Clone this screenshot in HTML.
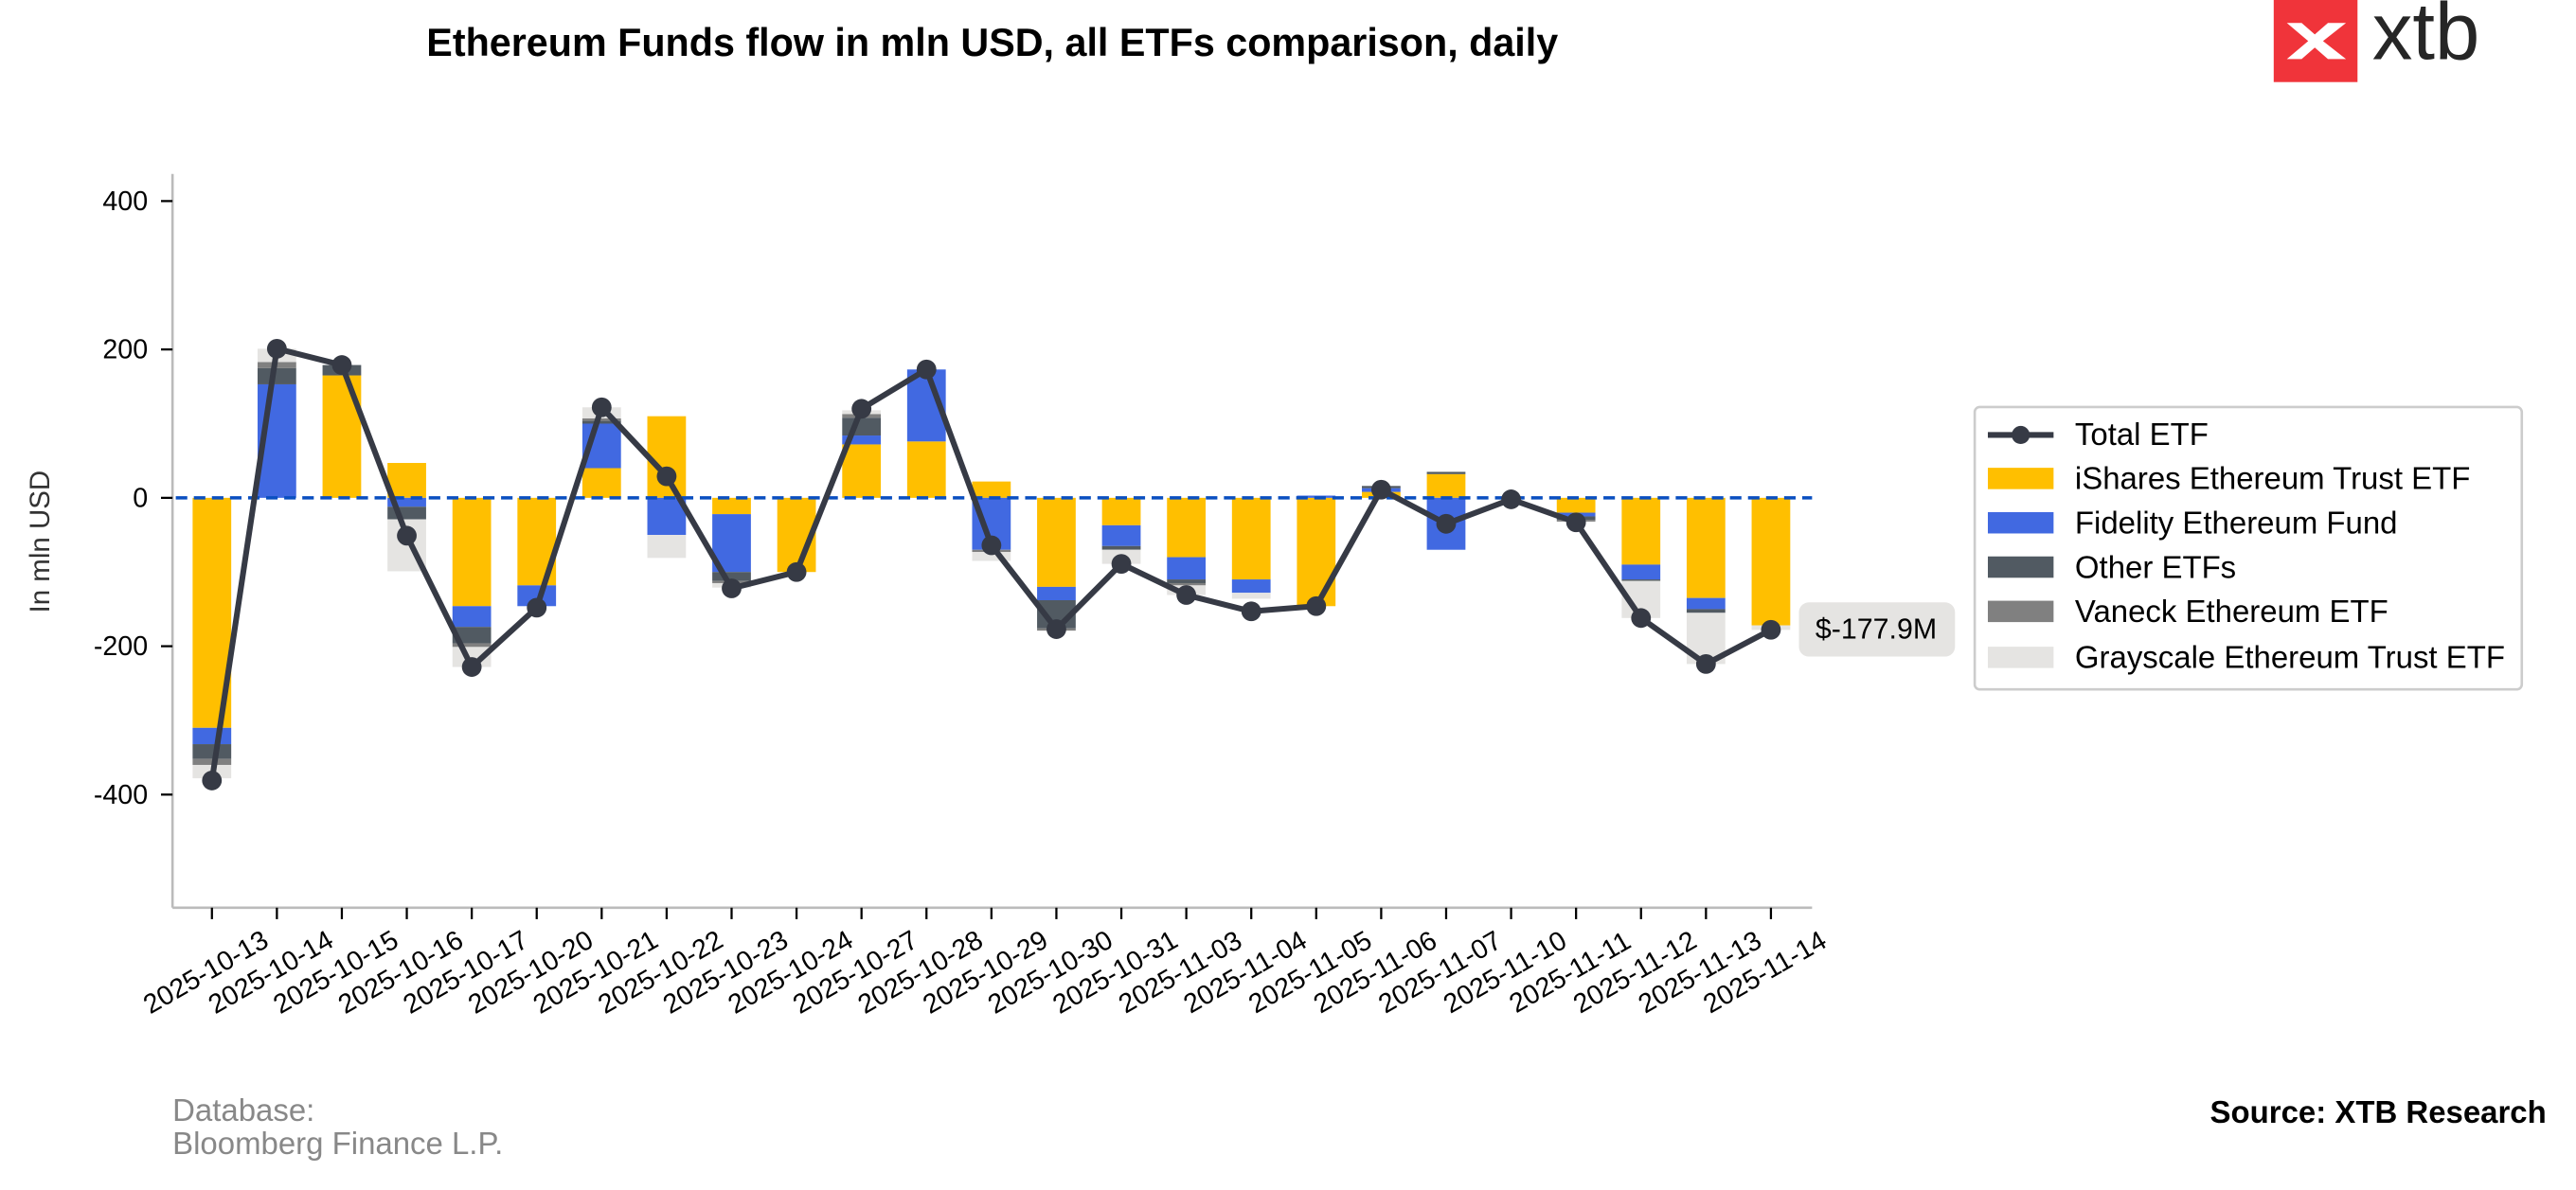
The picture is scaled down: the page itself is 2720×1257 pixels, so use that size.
<!DOCTYPE html>
<html><head><meta charset="utf-8"><style>
html,body{margin:0;padding:0;background:#fff}
svg{display:block}
text{font-family:"Liberation Sans",Arial,sans-serif}
</style></head><body>
<svg id="chart" width="2720" height="1257" viewBox="0 0 1568 725" preserveAspectRatio="none" xmlns="http://www.w3.org/2000/svg">
<text x="604" y="34" text-anchor="middle" font-size="23.8" font-weight="bold" fill="#000">Ethereum Funds flow in mln USD, all ETFs comparison, daily</text>
<g>
<rect x="1384" y="0" width="51" height="50" fill="#f0343a"/>
<path d="M1392 14 L1405 25 L1392 36 L1401 36 L1409 29 L1417 36 L1428 36 L1414 25 L1428 14 L1417 14 L1409 21 L1401 14 Z" fill="#fff"/>
<text x="1444" y="36" font-size="49" fill="#262626">xtb</text>
</g>
<g id="axes"></g>
<g id="bars"></g>
<g id="line"></g>
<g>
<rect x="1095" y="367" width="95" height="33" rx="6" fill="#e5e4e2"/>
<text x="1142" y="389" text-anchor="middle" font-size="17.5" fill="#000">$-177.9M</text>
</g>
<g font-size="19">
<rect x="1202" y="248" width="333" height="172" rx="3" fill="#fff" stroke="#ccc" stroke-width="1.5"/>
<g><line x1="1210" y1="265" x2="1250" y2="265" stroke="#363a45" stroke-width="3.5"/><circle cx="1230" cy="265" r="5.5" fill="#363a45"/><text x="1263" y="271">Total ETF</text></g>
<g><rect x="1210" y="285" width="40" height="13" fill="#ffbf00"/><text x="1263" y="298">iShares Ethereum Trust ETF</text></g>
<g><rect x="1210" y="312" width="40" height="13" fill="#4169e1"/><text x="1263" y="325">Fidelity Ethereum Fund</text></g>
<g><rect x="1210" y="339" width="40" height="13" fill="#515a62"/><text x="1263" y="352">Other ETFs</text></g>
<g><rect x="1210" y="366" width="40" height="13" fill="#808080"/><text x="1263" y="379">Vaneck Ethereum ETF</text></g>
<g><rect x="1210" y="394" width="40" height="13" fill="#e5e4e2"/><text x="1263" y="407">Grayscale Ethereum Trust ETF</text></g>
</g>
<text transform="translate(30,330) rotate(-90)" text-anchor="middle" font-size="17" fill="#333">In mln USD</text>
<g fill="#888" font-size="19">
<text x="105" y="683">Database:</text><text x="105" y="703">Bloomberg Finance L.P.</text></g>
<text x="1550" y="684" text-anchor="end" font-size="19" font-weight="bold">Source: XTB Research</text>
</svg>
<script>
const dates=["2025-10-13","2025-10-14","2025-10-15","2025-10-16","2025-10-17","2025-10-20","2025-10-21","2025-10-22","2025-10-23","2025-10-24","2025-10-27","2025-10-28","2025-10-29","2025-10-30","2025-10-31","2025-11-03","2025-11-04","2025-11-05","2025-11-06","2025-11-07","2025-11-10","2025-11-11","2025-11-12","2025-11-13","2025-11-14"];
const ishares=[-310,0,165,47,-146,-118,40,110,-22,-100,72,76,22,-120,-37,-80,-110,-146,8,32,0,-20,-90,-135,-172];
const fidelity=[-22,153,0,-12,-28,-28,60,-50,-78,0,12,97,-70,-18,-28,-30,-18,3,5,-70,0,-5,-20,-15,0];
const other=[-20,22,14,-17,-22,0,4,0,-12,0,24,0,0,-38,-5,-5,0,0,3,3,0,-5,-2,-5,0];
const vaneck=[-8,8,0,0,-5,0,3,0,-3,0,5,0,-3,-3,0,-3,0,0,0,0,0,-2,0,0,0];
const grayscale=[-18,18,0,-70,-27,0,15,-31,-6,0,5,0,-12,0,-19,-13,-8,0,0,0,0,0,-50,-69,-6];
const total=[-381,201,179,-51,-228,-148,122,29,-122,-100,120,173,-64,-177,-89,-131,-153,-146,11,-35,-2,-33,-162,-224,-177.9];
const yTicks=[-400,-200,0,200,400];

const NS="http://www.w3.org/2000/svg";
function el(t,a,p){const e=document.createElementNS(NS,t);for(const k in a)e.setAttribute(k,a[k]);p.appendChild(e);return e;}
const y0=303.3,ppu=90.4/200;
const yS=v=>y0-v*ppu;
const xS=i=>129+i*39.54;
const axes=document.getElementById('axes'),bars=document.getElementById('bars'),line=document.getElementById('line');
let s=el('line',{x1:105,y1:106,x2:105,y2:553,stroke:'#bbb','stroke-width':1.5},axes);


s=el('line',{x1:105,y1:553,x2:1103,y2:553,stroke:'#bbb','stroke-width':1.5},axes);


yTicks.forEach(v=>{
  el('line',{x1:98,y1:yS(v),x2:105,y2:yS(v),stroke:'#000','stroke-width':1.3},axes);
  const t=el('text',{x:90,y:yS(v)+5.5,'text-anchor':'end','font-size':16.5},axes);
  t.textContent=v;
  
  
});
dates.forEach((d,i)=>{
  const x=xS(i);
  el('line',{x1:x,y1:553,x2:x,y2:560,stroke:'#000','stroke-width':1.3},axes);
  const t=el('text',{x:0,y:0,'text-anchor':'middle','font-size':16.5,transform:`translate(${x-1},${597}) rotate(-30)`},axes);
  t.textContent=d;
  
  
});
const series=[[ishares,'#ffbf00','ishares'],[fidelity,'#4169e1','fidelity'],[other,'#515a62','other'],[vaneck,'#808080','vaneck'],[grayscale,'#e5e4e2','grayscale']];
const bw=23.5;
const pos=dates.map(()=>0),neg=dates.map(()=>0);
series.forEach(([arr,c,n])=>{
  arr.forEach((v,i)=>{
    if(!v)return;
    let a,b;
    if(v>0){a=pos[i];b=a+v;pos[i]=b;}else{a=neg[i];b=a+v;neg[i]=b;}
    const r=el('rect',{x:xS(i)-bw/2,y:Math.min(yS(a),yS(b)),width:bw,height:Math.abs(yS(a)-yS(b)),fill:c},bars);
    
    
  });
});
const zl=el('line',{x1:107,y1:y0,x2:1103,y2:y0,stroke:'#0a4fc0','stroke-width':2,'stroke-dasharray':'7 4'},bars);


el('polyline',{points:total.map((v,i)=>xS(i)+','+yS(v)).join(' '),fill:'none',stroke:'#363a45','stroke-width':3.5,'stroke-linejoin':'round'},line);
total.forEach((v,i)=>{
  const c=el('circle',{cx:xS(i),cy:yS(v),r:6,fill:'#363a45'},line);
  
  
});
</script>
</body></html>
